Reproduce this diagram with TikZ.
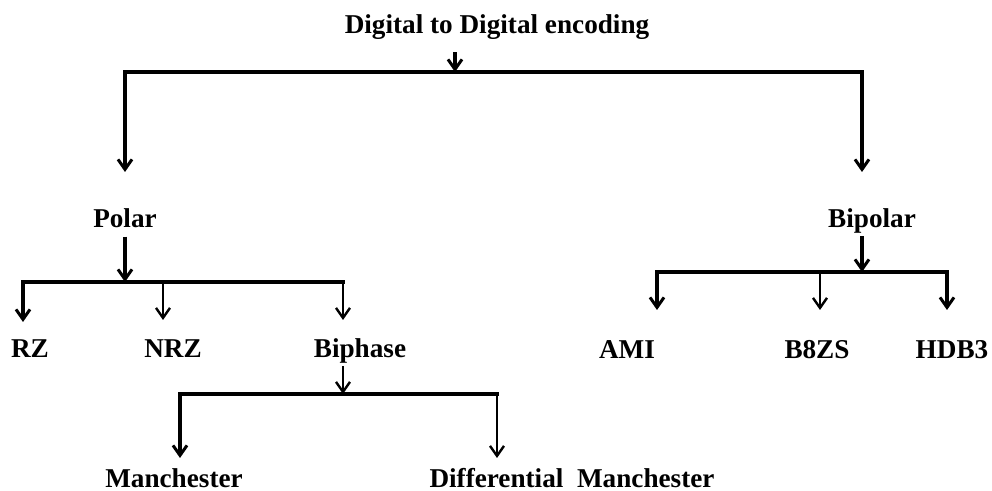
\documentclass[tikz,border=0pt]{standalone}
\usepackage{fontspec}
\setmainfont{Liberation Serif}
\usetikzlibrary{arrows.meta}
\begin{document}
\begin{tikzpicture}[x=0.5pt,y=-0.5pt,
  lbl/.style={font=\fontsize{13.6}{16}\selectfont\bfseries, inner sep=0pt, anchor=base},
  bar/.style={line width=1.8pt, line cap=rect},
  arr/.style={line width=1.8pt, -{Straight Barb[length=5pt,width=7pt,line width=1.5pt]}},
  thinarr/.style={line width=1.1pt, -{Straight Barb[length=5pt,width=7pt,line width=1.2pt]}}]
  \useasboundingbox (0,0) rectangle (992,491);

  % labels
  \node[lbl] (root) at (497,34) {Digital to Digital encoding};
  \node[lbl] (polar) at (125,228) {Polar};
  \node[lbl] (bipolar) at (872,228) {Bipolar};
  \node[lbl] (rz) at (30,358) {RZ};
  \node[lbl] (nrz) at (173,358) {NRZ};
  \node[lbl] (biphase) at (360,358) {Biphase};
  \node[lbl] (ami) at (627,359) {AMI};
  \node[lbl] (b8zs) at (817,359) {B8ZS};
  \node[lbl] (hdb3) at (952,359) {HDB3};
  \node[lbl] (man) at (174,488) {Manchester};
  \node[lbl] (diffman) at (572,488) {Differential\ \ Manchester};

  % junction points on the bus lines
  \coordinate (j0) at (455,72);
  \coordinate (j1) at (125,282);
  \coordinate (j2) at (862,272);
  \coordinate (j3) at (343,394);

  % level 1
  \draw[arr] (root.south -| j0) ++(0,12) -- (j0);
  \draw[bar] (125,72) -- (862,72);
  \draw[arr] (125,72) -- (125,172);
  \draw[arr] (862,72) -- (862,172);

  % polar branch
  \draw[arr] (polar.south) ++(0,8) -- (j1);
  \draw[bar] (23,282) -- (343,282);
  \draw[arr] (23,282) -- (23,322);
  \draw[thinarr] (163,282) -- (163,320);
  \draw[thinarr] (343,282) -- (343,320);

  % bipolar branch
  \draw[arr] (bipolar.south -| j2) ++(0,2) -- (j2);
  \draw[bar] (657,272) -- (947,272);
  \draw[arr] (657,272) -- (657,310);
  \draw[thinarr] (820,272) -- (820,310);
  \draw[arr] (947,272) -- (947,310);

  % biphase branch
  \draw[thinarr] (biphase.south -| j3) ++(0,2) -- (j3);
  \draw[bar] (180,394) -- (497,394);
  \draw[arr] (180,394) -- (180,458);
  \draw[thinarr] (497,394) -- (497,458);
\end{tikzpicture}
\end{document}
